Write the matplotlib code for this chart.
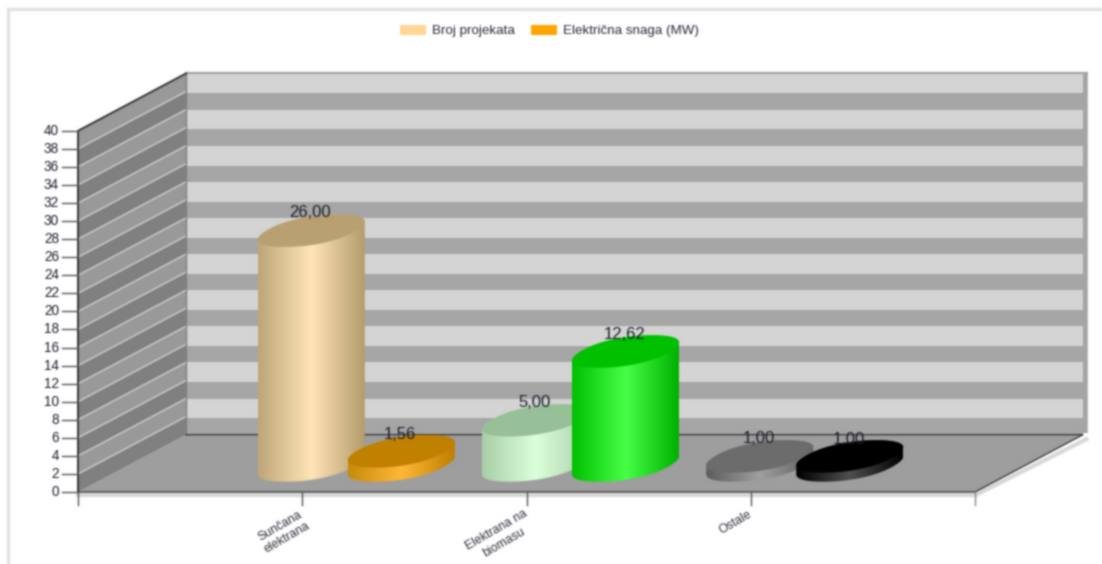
import numpy as np
import matplotlib
matplotlib.use("Agg")
import matplotlib.pyplot as plt
from matplotlib.colors import LinearSegmentedColormap
from matplotlib.patches import Patch, Polygon, Rectangle

plt.rcParams['font.family'] = ['Liberation Sans', 'DejaVu Sans']

categories = ["Sunčana\nelektrana", "Elektrana na\nbiomasu", "Ostale"]
series_names = ["Broj projekata", "Električna snaga (MW)"]
broj_projekata = [26.00, 5.00, 1.00]
snaga_mw = [1.56, 12.62, 1.00]
y_ticks = list(range(0, 41, 2))

# (edge, centre, right edge, cap) for each cylinder
styles_a = [("#bfa678", "#ffe5b8", "#b59c6c", "#b8a070"),
            ("#a8cfa8", "#dcffdc", "#a8cfa8", "#98c098"),
            ("#5c5c5c", "#a0a0a0", "#5c5c5c", "#6c6c6c")]
styles_b = [("#c88a0a", "#ffb838", "#c07f00", "#c08000"),
            ("#00c000", "#48ff48", "#00b000", "#00c000"),
            ("#000000", "#505050", "#000000", "#000000")]

# scale: one category = 224.25 px, one unit = 9.03 px
px_x = 224.25
px_y = 9.03
DX = 108 / px_x
DY = 6.35
Y_MAX = 40
N_CAT = 4

# cylinder shape, a bit boxier than a true ellipse like the original
A = 46
B = 27
C = 16.2 / px_y
BASE = 2.94
POWER = 0.9
HALF_W = 53.5 / px_x


def unit_ring(t):
    c = np.sign(np.cos(t)) * np.abs(np.cos(t)) ** POWER
    s = np.sign(np.sin(t)) * np.abs(np.sin(t)) ** POWER
    return c, s


T = np.linspace(-np.pi, np.pi, 721)
_c, _s = unit_ring(T)
_x = A * _c + B * _s
X_NORM = HALF_W / _x.max()
T0 = T[np.argmax(_x)]


def ring(cx, cy, t):
    c, s = unit_ring(t)
    return np.column_stack([cx + (A * c + B * s) * X_NORM, cy + C * s])


def blur(img, dpi):
    sigma = 0.85
    r = np.arange(-3, 4)
    k = np.exp(-r ** 2 / (2 * sigma ** 2))
    k = k / k.sum()
    pad = np.pad(img, ((3, 3), (3, 3), (0, 0)), mode="edge")
    out = np.apply_along_axis(lambda m: np.convolve(m, k, mode="same"), 0, pad)
    out = np.apply_along_axis(lambda m: np.convolve(m, k, mode="same"), 1, out)
    return out[3:-3, 3:-3], 0, 0


def cylinder(ax, cx, value, style, z):
    top = BASE + value
    low = ring(cx, BASE, np.linspace(T0, T0 - np.pi, 120))
    up = ring(cx, top, np.linspace(T0 + np.pi, T0, 120))
    body = Polygon(np.vstack([low, up]), closed=True, transform=ax.transData,
                   facecolor="none", edgecolor="none")
    ax.add_patch(body)
    cmap = LinearSegmentedColormap.from_list("c", [style[0], style[1], style[2]])
    im = ax.imshow(np.linspace(0, 1, 256).reshape(1, -1), cmap=cmap, aspect="auto",
                   extent=[cx - HALF_W, cx + HALF_W, BASE - C * 1.2, top + C * 1.2],
                   zorder=z)
    im.set_clip_path(body)
    cap = Polygon(ring(cx, top, np.linspace(0, 2 * np.pi, 240)), closed=True,
                  facecolor=style[3], edgecolor="none", zorder=z + 0.1)
    ax.add_patch(cap)
    return top


def main():
    fig = plt.figure(figsize=(11.02, 5.64), dpi=100)
    ax = fig.add_axes([0, 0, 1, 1])
    ax.axis("off")
    xlim = (-78 / px_x, (1102 - 78) / px_x)
    ylim = ((492 - 564) / px_y, 492 / px_y)

    # white backing so the blur has no transparent pixels
    ax.add_patch(Rectangle((xlim[0], ylim[0]), xlim[1] - xlim[0], ylim[1] - ylim[0],
                           facecolor="white", edgecolor="none", zorder=0))

    # outer frame
    ax.plot([xlim[0] + 8 / px_x, xlim[0] + 8 / px_x, xlim[1]],
            [ylim[0], ylim[1] - 9 / px_y, ylim[1] - 9 / px_y],
            color="#e2e2e2", lw=2.5, zorder=1)

    # back wall
    ax.add_patch(Polygon([(DX, DY), (N_CAT + DX, DY), (N_CAT + DX, Y_MAX + DY), (DX, Y_MAX + DY)],
                         facecolor="#a6a6a6", edgecolor="none", zorder=2))
    for v in range(2, Y_MAX, 4):
        ax.fill_between([DX, N_CAT + DX], v + DY - 0.2, v + 2 + DY,
                        color="#d4d4d4", lw=0, zorder=3)
    ax.plot([N_CAT + DX + 0.01] * 2, [DY + 0.2, Y_MAX + DY - 0.1], color="#a4a4a4", lw=4,
            solid_capstyle="butt", zorder=2.5)
    ax.plot([DX, N_CAT + DX + 0.02], [Y_MAX + DY] * 2, color="#a0a0a0", lw=1.5, zorder=3)

    # left wall
    ax.add_patch(Polygon([(0, 0), (DX, DY), (DX, Y_MAX + DY), (0, Y_MAX)],
                         facecolor="#999999", edgecolor="none", zorder=2))
    for v in range(0, Y_MAX, 4):
        ax.add_patch(Polygon([(0, v), (DX, v + DY), (DX, v + 2 + DY), (0, v + 2)],
                             facecolor="#808080", edgecolor="none", zorder=3))
    for v in y_ticks[1:-1]:
        ax.plot([0, DX], [v, v + DY], color="#d0d0d0", lw=1, zorder=4)

    # floor
    ax.add_patch(Polygon([(0, 0), (DX, DY), (N_CAT + DX, DY), (N_CAT, 0)],
                         facecolor="#9e9e9e", edgecolor="none", zorder=4))
    ax.plot([0, N_CAT], [-0.3, -0.3], color="#d8d8d8", lw=3, zorder=3.5)
    ax.plot([N_CAT + 0.005, N_CAT + DX + 0.015], [-0.3, DY - 0.5], color="#d8d8d8", lw=3, zorder=3.5)
    ax.plot([0, N_CAT, N_CAT + DX, DX], [0, 0, DY, DY], color="#3c3c3c", lw=1, zorder=5)
    ax.plot([0, 0, DX], [0, Y_MAX, Y_MAX + DY], color="#303030", lw=1.3, zorder=5)
    ax.plot([DX, DX], [DY, Y_MAX + DY], color="#808080", lw=1, zorder=4.5)

    # ticks
    for v in y_ticks:
        ax.plot([-16 / px_x, 0], [v, v], color="#555555", lw=1, zorder=5)
        ax.text(-19 / px_x, v, str(v), ha="right", va="center", fontsize=9.8,
                color="#1c1c2c", zorder=6)
    for i in range(N_CAT):
        ax.plot([i, i], [0, -13 / px_y], color="#555555", lw=1, zorder=5)
    ax.plot([N_CAT, N_CAT], [0, -13 / px_y], color="#888888", lw=1, zorder=5)
    for i, name in enumerate(categories):
        ax.text(i + 1 - 3 / px_x, -16 / px_y, name, rotation=30, rotation_mode="anchor",
                ha="right", va="top", ma="center", fontsize=8.8, color="#333340", zorder=6)

    # cylinders
    z = 6
    for i in range(len(categories)):
        cx_a = i + 1 + 9 / px_x
        cx_b = i + 1 + 99 / px_x
        top_a = cylinder(ax, cx_a, broj_projekata[i], styles_a[i], z)
        top_b = cylinder(ax, cx_b, snaga_mw[i], styles_b[i], z + 1)
        z += 2
        ax.text(cx_a - 1 / px_x, top_a + 18 / px_y, "{:.2f}".format(broj_projekata[i]).replace(".", ","),
                ha="center", va="center", fontsize=12, color="#1c1c2c", zorder=20)
        ax.text(cx_b - 1 / px_x, top_b + 17 / px_y, "{:.2f}".format(snaga_mw[i]).replace(".", ","),
                ha="center", va="center", fontsize=12, color="#1c1c2c", zorder=20)

    ax.set_xlim(xlim)
    ax.set_ylim(ylim)

    handles = [Patch(facecolor="#ffd695", edgecolor="none", label=series_names[0]),
               Patch(facecolor="#ffa500", edgecolor="none", label=series_names[1])]
    leg = ax.legend(handles=handles, ncol=2, frameon=False, loc="center",
                    bbox_to_anchor=(549.5 / 1102, 1 - 31 / 564), bbox_transform=fig.transFigure,
                    fontsize=9.6, handlelength=1.95, handleheight=0.75, handletextpad=0.45,
                    columnspacing=1.2, labelcolor="#2a2a3a")
    leg.set_zorder(30)

    ax.set_agg_filter(blur)
    fig.savefig("out.png", dpi=100)


if __name__ == "__main__":
    main()
